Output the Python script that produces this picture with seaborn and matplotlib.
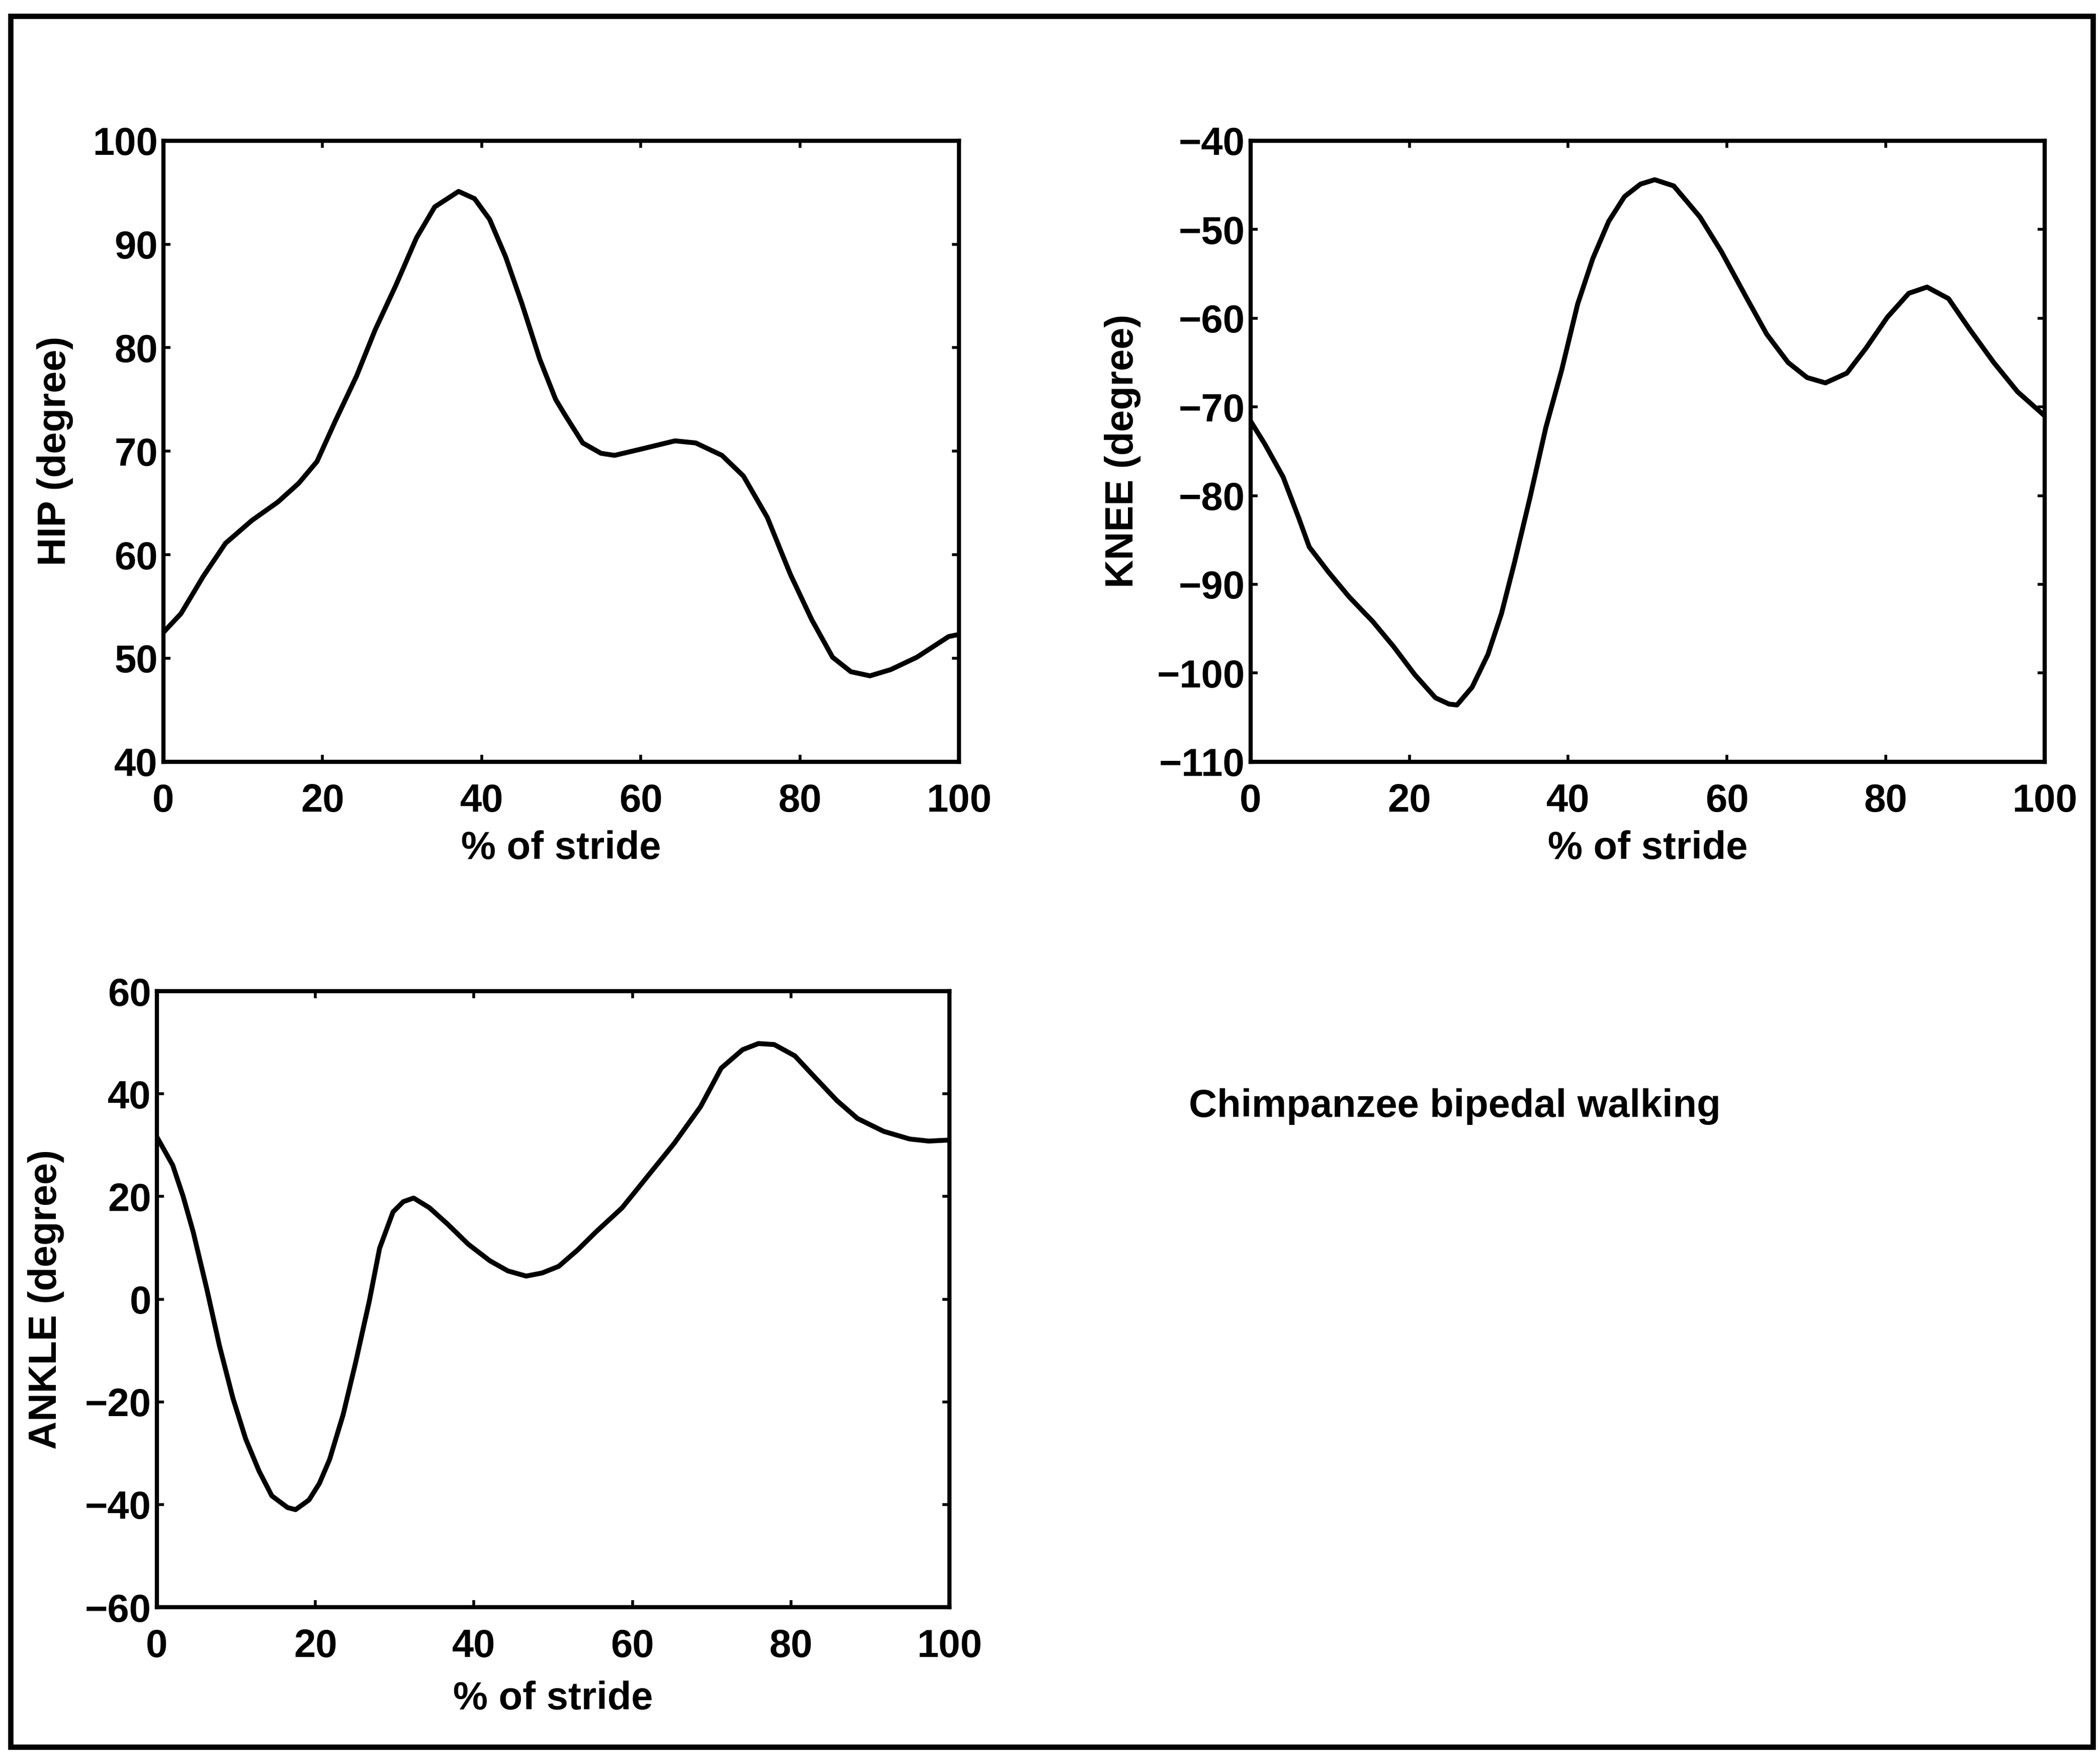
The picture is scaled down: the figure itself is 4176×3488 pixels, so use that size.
import matplotlib
matplotlib.use("Agg")
import matplotlib.pyplot as plt
from matplotlib.patches import Rectangle
import seaborn as sns
import pandas as pd

# Joint angles over one stride (% of stride -> degrees)
hip_x = [0, 2.2, 5, 7.8, 11.1, 14.4, 17, 19.3, 21.6, 24.3, 26.6, 29.2, 31.8, 34.1,
         37.1, 39.1, 41, 43, 45, 47.3, 49.3, 50.4, 52.7, 55, 56.7, 60, 64.3, 66.9,
         70.2, 72.9, 75.9, 78.8, 81.5, 84.1, 86.4, 88.8, 91.4, 94.7, 98.7, 100]
hip_y = [52.5, 54.3, 57.9, 61.1, 63.3, 65.1, 66.9, 69.0, 72.9, 77.3, 81.7, 86.0, 90.6, 93.6,
         95.1, 94.4, 92.4, 88.8, 84.4, 78.9, 75.0, 73.6, 70.8, 69.8, 69.6, 70.2, 71.0, 70.8,
         69.6, 67.6, 63.6, 58.1, 53.7, 50.1, 48.7, 48.3, 48.9, 50.1, 52.1, 52.3]

knee_x = [0, 1.8, 4.1, 6.1, 7.4, 9.8, 12.4, 15.4, 18, 20.7, 23.3, 25, 26, 27.9, 29.9,
          31.6, 33.2, 35.2, 37.2, 39.2, 41.2, 43.1, 45.1, 47.1, 49.1, 50.9, 53.3, 56.6,
          59.3, 62.4, 65, 67.7, 70.1, 72.4, 75.1, 77.5, 80.2, 82.9, 85.2, 87.9, 90.6,
          93.6, 96.6, 100]
knee_y = [-71.6, -74.2, -77.9, -82.6, -85.8, -88.6, -91.4, -94.2, -97.0, -100.2, -102.8,
          -103.5, -103.6, -101.6, -97.9, -93.3, -87.7, -80.2, -72.3, -65.8, -58.4, -53.3,
          -49.1, -46.3, -44.9, -44.4, -45.1, -48.6, -52.5, -57.6, -61.8, -65.0, -66.7,
          -67.3, -66.2, -63.4, -59.9, -57.2, -56.5, -57.8, -61.3, -65.0, -68.3, -71.0]

ankle_x = [0, 2, 3.3, 4.6, 6.3, 7.9, 9.6, 11.2, 12.9, 14.5, 16.5, 17.5, 19.2, 20.5, 21.8,
           23.5, 25.1, 26.8, 28.1, 29.8, 31.1, 32.4, 34.4, 36.7, 39.3, 42, 44.3, 46.6,
           48.6, 50.7, 53.1, 55.4, 58.7, 62, 65.3, 68.6, 71.2, 73.9, 75.9, 77.9, 80.5,
           83.1, 85.8, 88.4, 91.7, 95, 97.4, 100]
ankle_y = [31.6, 26.1, 20.1, 13.0, 2.0, -9.1, -19.3, -27.2, -33.5, -38.3, -40.6, -41.0,
           -39.1, -35.9, -31.2, -22.5, -12.2, -0.4, 9.9, 17.0, 19.0, 19.7, 17.8, 14.6,
           10.7, 7.5, 5.5, 4.5, 5.1, 6.4, 9.6, 13.1, 17.8, 24.1, 30.4, 37.5, 45.0, 48.6,
           49.8, 49.6, 47.4, 43.1, 38.7, 35.2, 32.7, 31.2, 30.8, 31.0]

x_ticks = [0, 20, 40, 60, 80, 100]
hip_ticks = [40, 50, 60, 70, 80, 90, 100]
knee_ticks = [-110, -100, -90, -80, -70, -60, -50, -40]
ankle_ticks = [-60, -40, -20, 0, 20, 40, 60]

x_label = "% of stride"
title_text = "Chimpanzee bipedal walking"

sns.set_theme(style="ticks")
plt.rcParams["font.family"] = ["Liberation Sans", "DejaVu Sans"]
plt.rcParams["font.weight"] = "bold"
plt.rcParams["axes.unicode_minus"] = True

FS = 28
FW = "bold"
fig = plt.figure(figsize=(20.88, 17.44), dpi=200)
fig.patch.set_facecolor("white")

panels = [
    ([0.0778, 0.5657, 0.3789, 0.3541], hip_x, hip_y, hip_ticks, "HIP (degree)", -0.113, -0.110),
    ([0.5955, 0.5657, 0.3781, 0.3541], knee_x, knee_y, knee_ticks, "KNEE (degree)", -0.138, -0.110),
    ([0.0747, 0.0837, 0.3774, 0.3512], ankle_x, ankle_y, ankle_ticks, "ANKLE (degree)", -0.117, -0.119),
]

for rect, xs, ys, yt, ylab, ylx, xly in panels:
    ax = fig.add_axes(rect)
    df = pd.DataFrame({"stride": xs, "angle": ys})
    sns.lineplot(data=df, x="stride", y="angle", ax=ax, color="black",
                 linewidth=3.5, sort=False, estimator=None)
    ax.set_xlim(0, 100)
    ax.set_ylim(yt[0], yt[-1])
    ax.set_xticks(x_ticks)
    ax.set_yticks(yt)
    ax.set_xticklabels([str(v) for v in x_ticks], fontsize=FS, fontweight=FW)
    ax.set_yticklabels([f"{v}".replace("-", "\u2212") for v in yt], fontsize=FS, fontweight=FW)
    ax.tick_params(axis="both", direction="in", length=5, width=2,
                   top=True, right=True, colors="black")
    ax.tick_params(axis="x", pad=15)
    ax.tick_params(axis="y", pad=4)
    for sp in ax.spines.values():
        sp.set_linewidth(3.0)
        sp.set_color("black")
        sp.set_visible(True)
    ax.set_xlabel(x_label, fontsize=FS, fontweight=FW, color="black")
    ax.set_ylabel(ylab, fontsize=FS, fontweight=FW, color="black")
    ax.yaxis.set_label_coords(ylx, 0.5)
    ax.xaxis.set_label_coords(0.5, xly)
    ax.set_facecolor("white")

fig.text(0.566, 0.369, title_text, fontsize=FS, fontweight=FW,
         ha="left", va="center", color="black")

fig.patches.append(Rectangle((0.005, 0.004), 0.9917, 0.9868, transform=fig.transFigure,
                             fill=False, linewidth=3.8, edgecolor="black"))

fig.savefig("out.png", dpi=200, facecolor="white")
